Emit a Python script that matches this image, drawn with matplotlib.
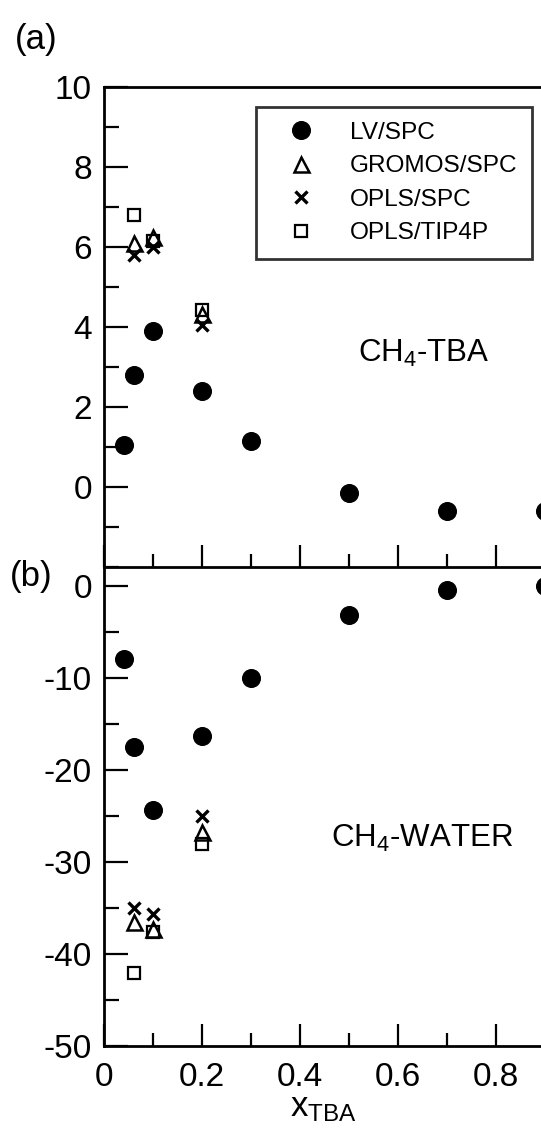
import matplotlib
matplotlib.use("Agg")
import matplotlib.pyplot as plt
from matplotlib.ticker import MultipleLocator
from matplotlib.lines import Line2D

plt.rcParams['font.family'] = ['Liberation Sans', 'DejaVu Sans']
plt.rcParams['axes.unicode_minus'] = False
plt.rcParams['mathtext.fontset'] = 'custom'
plt.rcParams['mathtext.rm'] = 'Liberation Sans'
plt.rcParams['mathtext.it'] = 'Liberation Sans'

# ---- data ----
lv_x = [0.04, 0.06, 0.1, 0.2, 0.3, 0.5, 0.7, 0.9]
lv_tba = [1.04, 2.79, 3.88, 2.38, 1.13, -0.17, -0.61, -0.62]
lv_water = [-8.0, -17.6, -24.4, -16.4, -10.0, -3.2, -0.5, -0.05]

ff_x = [0.06, 0.1, 0.2]
gromos_tba = [6.08, 6.25, 4.32]
opls_spc_tba = [5.80, 5.98, 4.05]
opls_tip4p_tba = [6.80, 6.15, 4.42]

gromos_water = [-36.6, -37.3, -26.8]
opls_spc_water = [-35.1, -35.7, -25.0]
opls_tip4p_water = [-42.1, -37.7, -28.1]

labels = ['LV/SPC', 'GROMOS/SPC', 'OPLS/SPC', 'OPLS/TIP4P']
xtick_vals = [0, 0.2, 0.4, 0.6, 0.8, 1.0]
xtick_labels = ['0', '0.2', '0.4', '0.6', '0.8', '']
ytick_a = [0, 2, 4, 6, 8, 10]
ytick_b = [-50, -40, -30, -20, -10, 0]

W, H = 541, 1133
fig = plt.figure(figsize=(W / 100, H / 100), dpi=100)

x0 = 104.3 / W
aw = 489.6 / W
top_px, mid_px, bot_px = 86.7, 566.5, 1045.5
ax1 = fig.add_axes([x0, (H - mid_px) / H, aw, (mid_px - top_px) / H])
ax2 = fig.add_axes([x0, (H - bot_px) / H, aw, (bot_px - mid_px) / H])
ax1.set_facecolor('none')
ax2.set_facecolor('none')
ax1.set_zorder(2)

styles = [
    dict(marker='o', ms=12.7, mfc='black', mec='black', ls='none'),
    dict(marker='^', ms=10.8, mfc='none', mec='black', mew=1.8, ls='none'),
    dict(marker='x', ms=8.5, mec='black', mew=2.4, ls='none'),
    dict(marker='s', ms=8.3, mfc='none', mec='black', mew=1.6, ls='none'),
]

ax1.plot(lv_x, lv_tba, **styles[0])
ax1.plot(ff_x, gromos_tba, **styles[1])
ax1.plot(ff_x, opls_spc_tba, **styles[2])
ax1.plot(ff_x, opls_tip4p_tba, **styles[3])

ax2.plot(lv_x, lv_water, **styles[0])
ax2.plot(ff_x, gromos_water, **styles[1])
ax2.plot(ff_x, opls_spc_water, **styles[2])
ax2.plot(ff_x, opls_tip4p_water, **styles[3])

ax1.set_xlim(0, 1.0)
ax2.set_xlim(0, 1.0)
ax1.set_ylim(-2, 10)
ax2.set_ylim(-50, 2.07)

for ax in (ax1, ax2):
    for sp in ax.spines.values():
        sp.set_linewidth(2.0)
    ax.xaxis.set_major_locator(MultipleLocator(0.2))
    ax.xaxis.set_minor_locator(MultipleLocator(0.1))
    ax.tick_params(axis='x', which='major', direction='in', length=16, width=1.6,
                   top=False, labelsize=24, pad=12)
    ax.tick_params(axis='x', which='minor', direction='in', length=9.5, width=1.6, top=False)
    ax.tick_params(axis='y', which='major', direction='in', length=17, width=1.6,
                   right=False, labelsize=24, pad=9)
    ax.tick_params(axis='y', which='minor', direction='in', length=11, width=1.6, right=False)

ax1.set_yticks(ytick_a)
ax1.yaxis.set_minor_locator(MultipleLocator(1))
ax1.set_yticklabels([str(v) for v in ytick_a])
ax1.tick_params(axis='x', which='both', labelbottom=False)

ax2.set_yticks(ytick_b)
ax2.set_yticks([-45, -35, -25, -15, -5], minor=True)
ax2.set_yticklabels([str(v) for v in ytick_b])
ax2.set_xticks(xtick_vals)
ax2.set_xticklabels(xtick_labels)
ax2.spines['top'].set_visible(False)

ax2.set_xlabel('x$_{\\mathrm{TBA}}$', fontsize=25)
ax2.xaxis.set_label_coords((323 - 104.3) / 489.6, -0.094)

ax1.text(0.518, 3.12, 'CH$_4$-TBA', fontsize=22.5, ha='left', va='baseline')
ax2.text(0.463, -28.4, 'CH$_4$-WATER', fontsize=22.5, ha='left', va='baseline')

handles = [Line2D([], [], **s) for s in styles]
leg = ax1.legend(handles, labels, loc='upper left',
                 bbox_to_anchor=(0.31, 0.654, 0.563, 0.304), mode='expand',
                 fontsize=17.6, frameon=True, fancybox=False, numpoints=1,
                 borderpad=0.6, handlelength=2.5, handletextpad=0.75,
                 labelspacing=0.47, borderaxespad=0)
leg.get_frame().set_edgecolor('black')
leg.get_frame().set_linewidth(2.0)

fig.text(15 / W, 1 - 39 / H, '(a)', fontsize=25, ha='left', va='center')
fig.text(10 / W, 1 - 577 / H, '(b)', fontsize=25, ha='left', va='center')

fig.savefig('out.png', dpi=100)
